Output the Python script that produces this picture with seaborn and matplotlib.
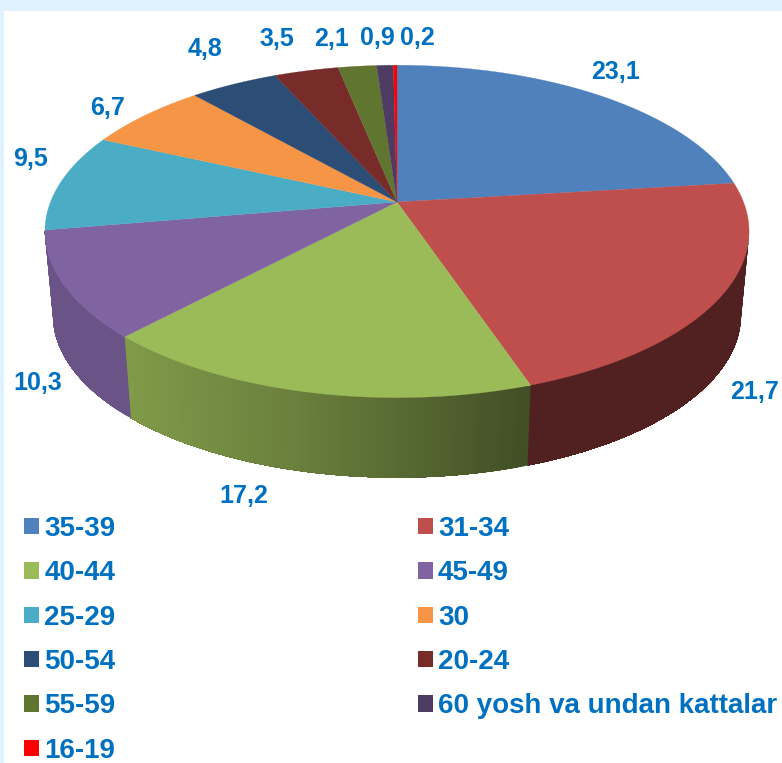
import numpy as np
import matplotlib
matplotlib.use("Agg")
import matplotlib.pyplot as plt
from matplotlib.patches import Patch, Rectangle
import seaborn as sns

categories = ["35-39", "31-34", "40-44", "45-49", "25-29", "30", "50-54",
              "20-24", "55-59", "60 yosh va undan kattalar", "16-19"]
values = [23.1, 21.7, 17.2, 10.3, 9.5, 6.7, 4.8, 3.5, 2.1, 0.9, 0.2]
value_labels = ["23,1", "21,7", "17,2", "10,3", "9,5", "6,7", "4,8", "3,5", "2,1", "0,9", "0,2"]
colors_hex = ["#4F81BD", "#BE4F4C", "#9BBB59", "#8064A2", "#4BACC6", "#F69545",
              "#2C4D75", "#772C2A", "#5F7530", "#4D3B62", "#FF0000"]
label_xy = [(616, 72), (755, 392), (244, 496), (38, 383), (31, 159), (108, 108),
            (205, 49), (277, 39), (332, 39), (377, 38), (417, 38)]

sns.set_theme(style="white")
plt.rcParams["font.family"] = ["Liberation Sans", "DejaVu Sans"]
palette = sns.color_palette(colors_hex)
TEXT = "#0070C0"

# perspective pie geometry (pixels)
CX, CY, A, B, K = 397.0, 202.0, 346.5, 161.0, 0.177
DROP, SHRINK = 84.5, 0.977
T_START = np.arccos(-K)
T_END = 2 * np.pi - T_START

def project(theta, bottom=False):
    u, v = np.sin(theta), np.cos(theta)
    d = 1 + K * v
    s, dy = (SHRINK, DROP) if bottom else (1.0, 0.0)
    return CX + s * A * u / d, CY + dy - s * B * v / d

def shade(x):
    return np.interp(x, [120, 300, 530], [0.83, 0.68, 0.42])

fig = plt.figure(figsize=(7.82, 7.63), dpi=100, facecolor="#DFF2FE")
ax = fig.add_axes([0, 0, 1, 1])
ax.set_xlim(0, 782)
ax.set_ylim(763, 0)
ax.axis("off")
ax.add_patch(Rectangle((4, 11), 778, 752, fc="white", ec="none", zorder=0))

edges = 2 * np.pi * np.concatenate([[0], np.cumsum(values)]) / np.sum(values)

# side wall: only the front arc between the two silhouette tangents.
# Each band runs to the end of the slice and is painted over by the next one,
# so no background can show between neighbouring bands.
for i, col in enumerate(palette):
    lo, hi = max(edges[i], T_START), min(edges[i + 1], T_END)
    if hi <= lo:
        continue
    n = max(2, int((hi - lo) / 0.008))
    for t0 in np.linspace(lo, hi, n + 1)[:-1]:
        arc = np.linspace(t0, hi, 120)
        xt, yt = project(arc)
        xb, yb = project(arc, True)
        band = tuple(np.array(col) * shade(project(t0)[0]))
        ax.fill(np.r_[xt, xb[::-1]], np.r_[yt, yb[::-1]], fc=band, ec="none", snap=False, zorder=2)

# top face
for i, col in enumerate(palette):
    ts = np.linspace(edges[i], edges[i + 1], max(3, int((edges[i + 1] - edges[i]) / 0.01)))
    xs, ys = project(ts)
    ax.fill(np.r_[CX, xs], np.r_[CY, ys], fc=col, ec=col, lw=0.2, zorder=3)

# value labels
for text, (x, y) in zip(value_labels, label_xy):
    ax.text(x, y, text, color=TEXT, fontsize=18, fontweight="bold",
            ha="center", va="center", zorder=5)

handles = [Patch(facecolor=c, edgecolor="none", label=n) for c, n in zip(palette, categories)]
order = [0, 2, 4, 6, 8, 10, 1, 3, 5, 7, 9]
leg = ax.legend([handles[i] for i in order], [categories[i] for i in order],
                ncol=2, frameon=False, loc="upper left",
                bbox_to_anchor=(24 / 782, 1 - 516 / 763), borderaxespad=0, borderpad=0,
                prop={"size": 20, "weight": "bold"}, handlelength=0.54, handleheight=0.54,
                handletextpad=0.19, columnspacing=10.88, labelspacing=0.66)
for t in leg.get_texts():
    t.set_color(TEXT)

fig.savefig("out.png", dpi=100, facecolor=fig.get_facecolor())
